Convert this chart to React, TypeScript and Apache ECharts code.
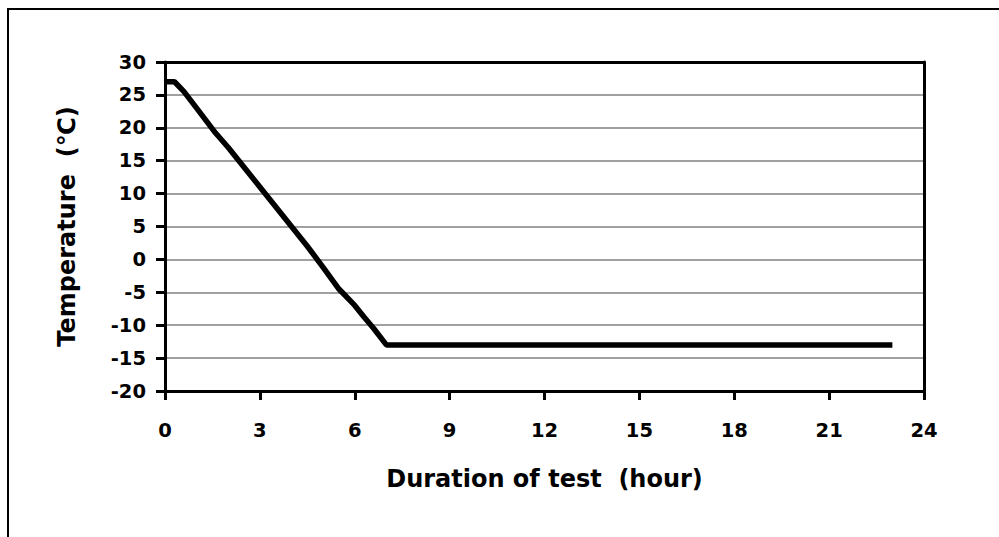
import React, { useEffect, useRef } from "react";
import * as echarts from "echarts";

const hours = [0, 0.3, 0.6, 1, 1.6, 2, 2.5, 3, 3.5, 4, 4.5, 5, 5.5, 6, 6.3, 6.6, 7, 23];
const temps = [27, 27, 25.5, 23, 19.2, 17, 14, 11, 8, 5, 2, -1.2, -4.5, -7, -8.8, -10.5, -13, -13];
const xTicks = [0, 3, 6, 9, 12, 15, 18, 21, 24];
const yTicks = [-20, -15, -10, -5, 0, 5, 10, 15, 20, 25, 30];

const FONT = "'DejaVu Sans', 'Liberation Sans', Arial, sans-serif";

export default function App() {
  const ref = useRef<HTMLDivElement>(null);
  useEffect(() => {
    if (!ref.current) return;
    const chart = echarts.init(ref.current, undefined, { renderer: "svg" });
    const data = hours.map((h, i) => [h, temps[i]]);
    const border = { show: true, onZero: false, lineStyle: { color: "#000", width: 3 } };
    chart.setOption({
      animation: false,
      backgroundColor: "#fff",
      graphic: [
        {
          type: "rect",
          shape: { x: 8, y: 9, width: 1100, height: 700 },
          style: { fill: "none", stroke: "#000", lineWidth: 2 },
          silent: true,
        },
      ],
      grid: {
        left: 165,
        right: 75,
        top: 62,
        bottom: 146,
        show: false,
      },
      xAxis: [
        {
          type: "value",
          min: xTicks[0],
          max: xTicks[xTicks.length - 1],
          interval: 3,
          name: "Duration of test  (hour)",
          nameLocation: "middle",
          nameGap: 76,
          nameTextStyle: { fontFamily: FONT, fontWeight: "bold", fontSize: 24, color: "#000" },
          axisLine: border,
          axisTick: { show: true, inside: false, length: 9, lineStyle: { color: "#000", width: 3 } },
          axisLabel: { fontFamily: FONT, fontWeight: "bold", fontSize: 19.5, color: "#000", margin: 29 },
          splitLine: { show: false },
        },
        {
          type: "value",
          position: "top",
          min: xTicks[0],
          max: xTicks[xTicks.length - 1],
          interval: 3,
          axisLine: border,
          axisTick: { show: false },
          axisLabel: { show: false },
          splitLine: { show: false },
        },
      ],
      yAxis: [
        {
          type: "value",
          min: yTicks[0],
          max: yTicks[yTicks.length - 1],
          interval: 5,
          name: "Temperature  (℃)",
          nameLocation: "middle",
          nameGap: 86,
          nameTextStyle: { fontFamily: FONT, fontWeight: "bold", fontSize: 24, color: "#000" },
          axisLine: border,
          axisTick: { show: true, inside: false, length: 9, lineStyle: { color: "#000", width: 3 } },
          axisLabel: { fontFamily: FONT, fontWeight: "bold", fontSize: 19.5, color: "#000", margin: 19 },
          splitLine: { show: true, lineStyle: { color: "#808080", width: 1.5 } },
        },
        {
          type: "value",
          position: "right",
          min: yTicks[0],
          max: yTicks[yTicks.length - 1],
          interval: 5,
          axisLine: border,
          axisTick: { show: false },
          axisLabel: { show: false },
          splitLine: { show: false },
        },
      ],
      series: [
        {
          type: "line",
          data,
          symbol: "none",
          lineStyle: { color: "#000", width: 5.5 },
          z: 5,
        },
      ],
    });
    return () => chart.dispose();
  }, []);
  return (
    <div
      ref={ref}
      style={{ position: "fixed", left: 0, top: 0, width: 999, height: 537, background: "#fff" }}
    />
  );
}
